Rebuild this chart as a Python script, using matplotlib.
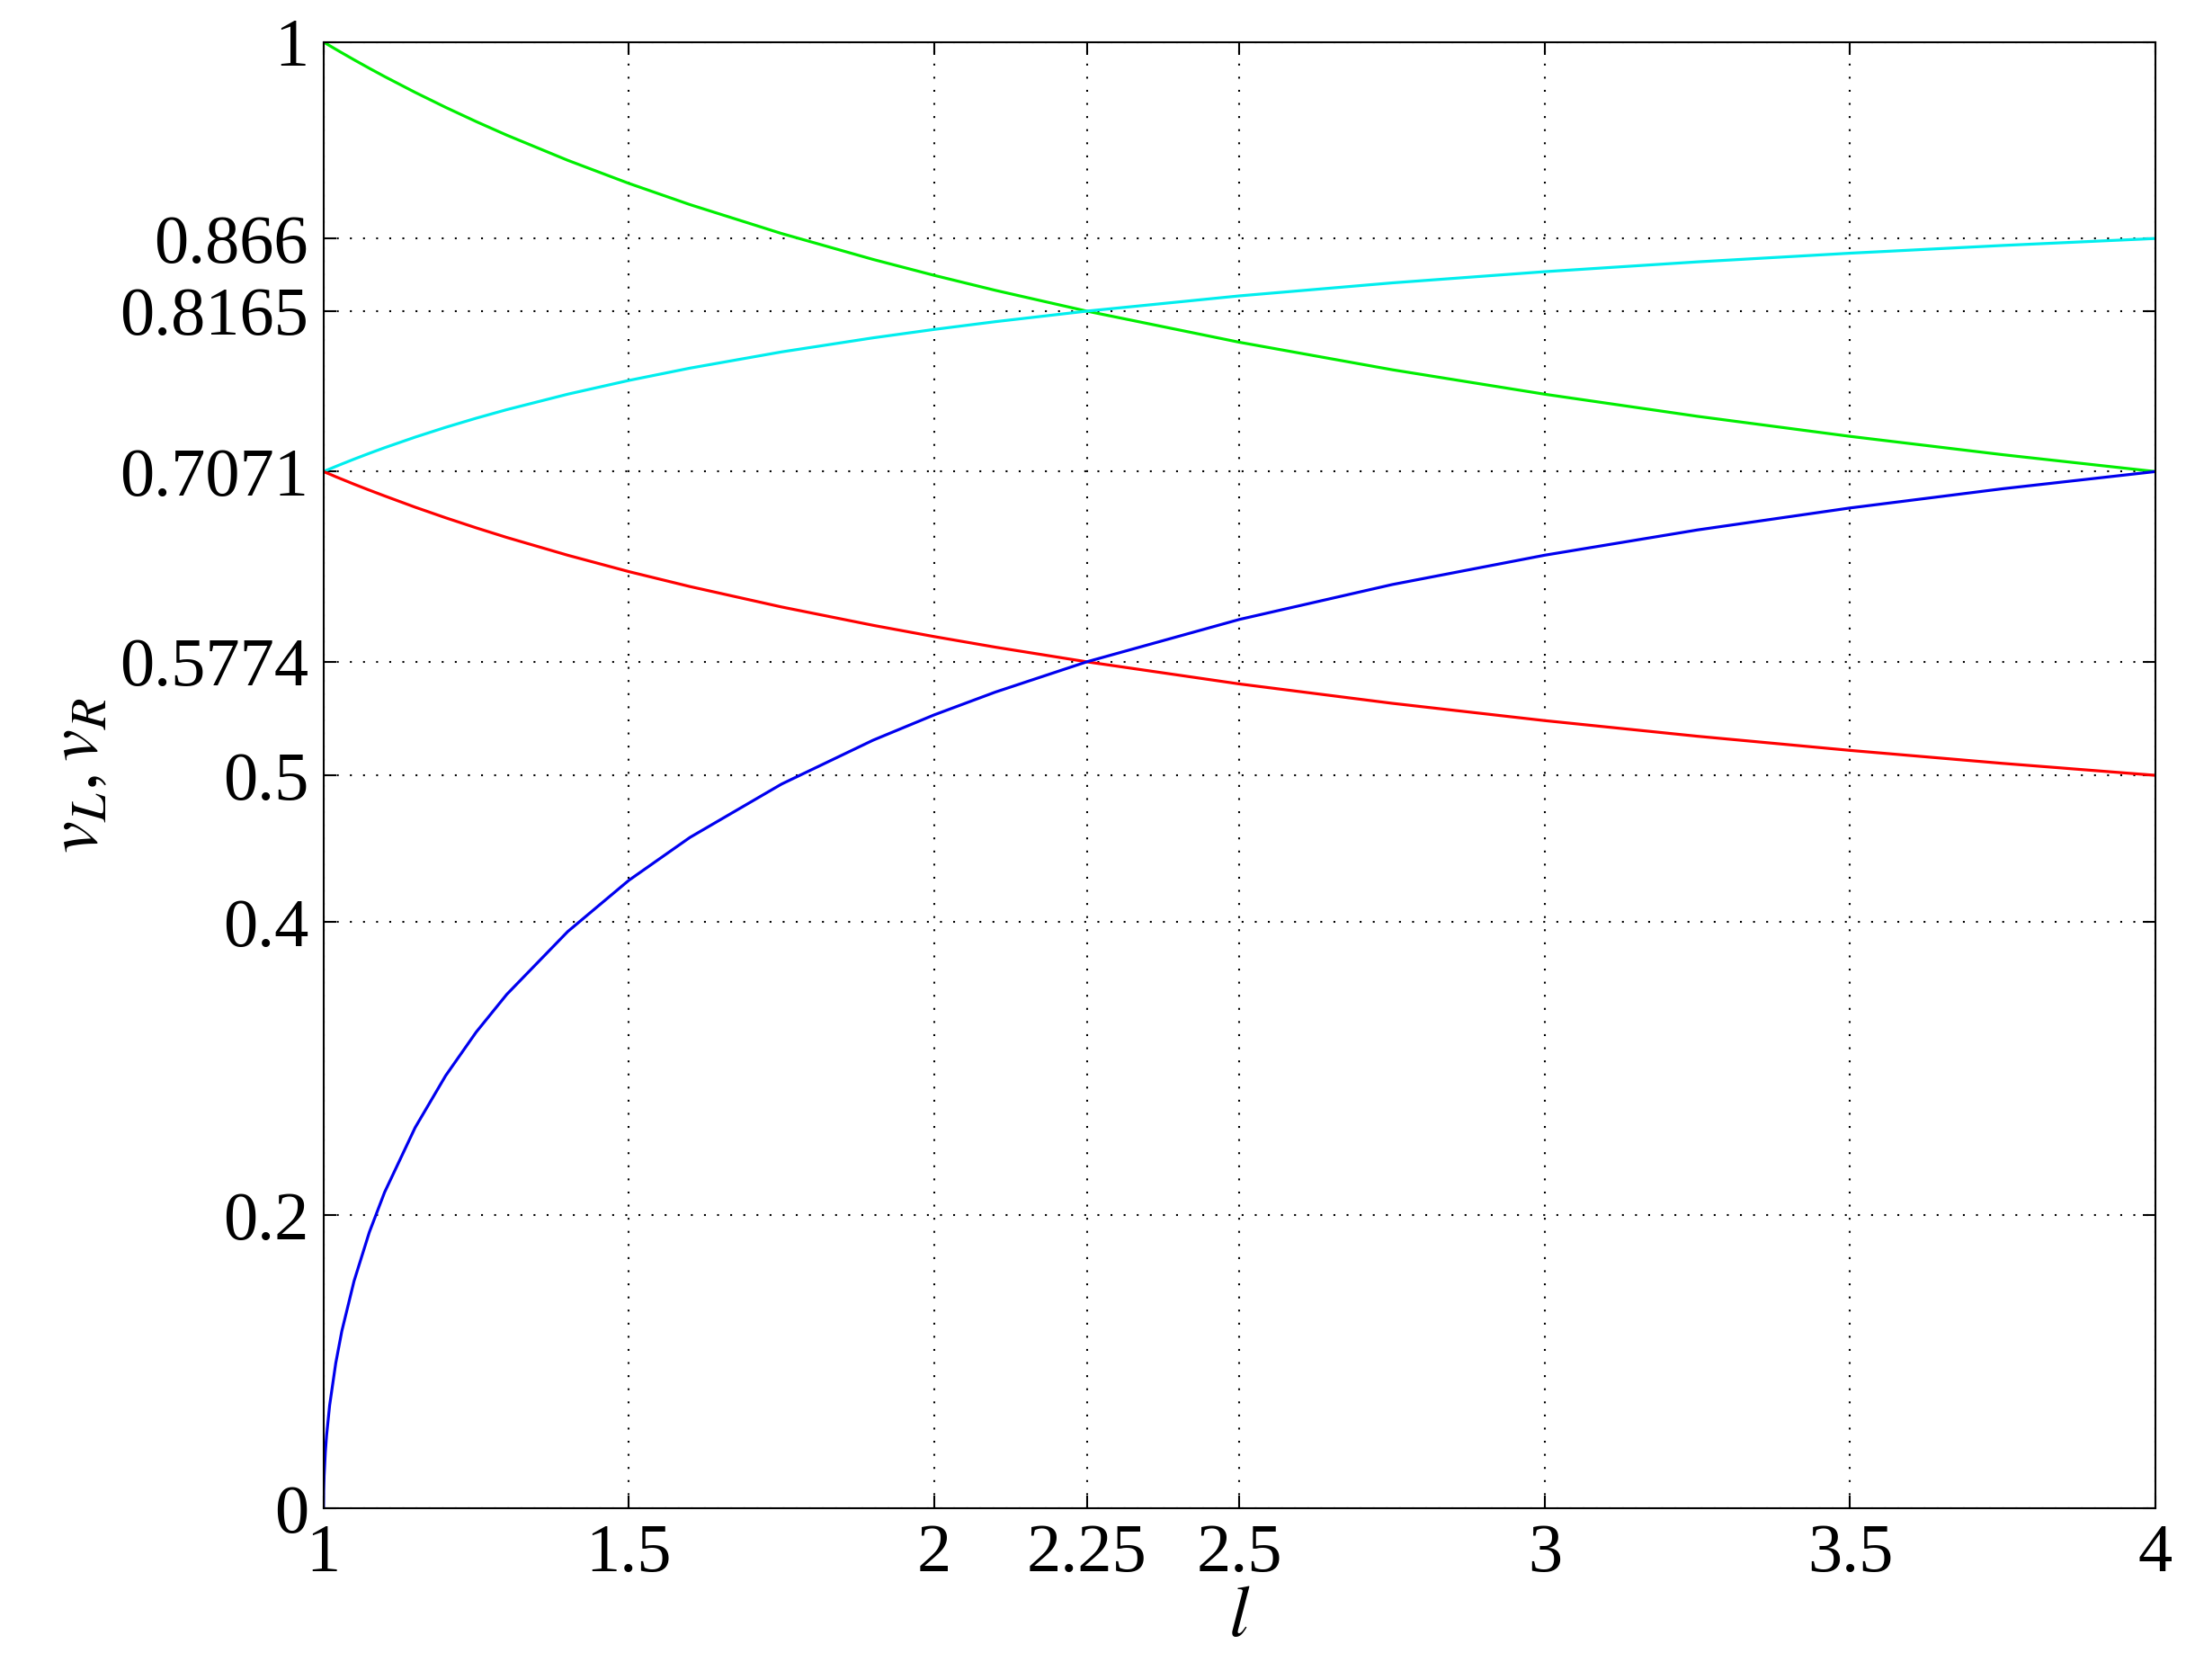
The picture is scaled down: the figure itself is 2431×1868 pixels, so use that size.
import matplotlib
matplotlib.use("Agg")
import matplotlib.pyplot as plt

l = [1, 1.0003, 1.001, 1.003, 1.005, 1.01, 1.02, 1.03, 1.05, 1.075, 1.1, 1.15, 1.2, 1.25, 1.3, 1.4, 1.5, 1.6, 1.75, 1.9, 2, 2.1, 2.25, 2.5, 2.75, 3, 3.25, 3.5, 3.75, 4]
green = [1, 0.999925, 0.99975, 0.99925, 0.998754, 0.997516, 0.99506, 0.992637, 0.98787, 0.982083, 0.97645, 0.965663, 0.95544, 0.945742, 0.93651, 0.919323, 0.90360, 0.889139, 0.86944, 0.851749, 0.84090, 0.830702, 0.81650, 0.79527, 0.776546, 0.75984, 0.744782, 0.73111, 0.718609, 0.70711]
red = [0.70711, 0.70706, 0.70693, 0.70658, 0.70623, 0.7054, 0.7036, 0.70190, 0.6985, 0.69444, 0.6905, 0.68283, 0.6756, 0.66874, 0.6622, 0.65006, 0.6389, 0.62872, 0.6148, 0.60228, 0.5946, 0.58740, 0.5774, 0.5623, 0.54911, 0.5373, 0.52664, 0.5170, 0.50814, 0.5000]
blue = [0, 0.01225, 0.0224, 0.0387, 0.04991, 0.0704, 0.0992, 0.12112, 0.1552, 0.18845, 0.2157, 0.25980, 0.2952, 0.32492, 0.3506, 0.39350, 0.4284, 0.45764, 0.4940, 0.52395, 0.5412, 0.55672, 0.5774, 0.6063, 0.63006, 0.6501, 0.66731, 0.6823, 0.69541, 0.7071]
cyan = [0.70711, 0.70721, 0.70729, 0.70764, 0.70799, 0.70886, 0.71058, 0.71227, 0.71558, 0.71955, 0.72337, 0.73058, 0.73727, 0.74350, 0.74931, 0.75988, 0.76925, 0.77763, 0.78869, 0.79829, 0.80402, 0.80930, 0.8165, 0.82691, 0.83576, 0.84340, 0.85009, 0.85600, 0.86128, 0.86603]

xticks = [1, 1.5, 2, 2.25, 2.5, 3, 3.5, 4]
xlabels = ['1', '1.5', '2', '2.25', '2.5', '3', '3.5', '4']
yticks = [0, 0.2, 0.4, 0.5, 0.5774, 0.7071, 0.8165, 0.866, 1]
ylabels = ['0', '0.2', '0.4', '0.5', '0.5774', '0.7071', '0.8165', '0.866', '1']

plt.rcParams['font.family'] = ['Liberation Serif', 'DejaVu Serif']
plt.rcParams['mathtext.fontset'] = 'stix'
fig = plt.figure(figsize=(24.31, 18.68), dpi=100)
ax = fig.add_axes([0.148, 0.102, 0.838, 0.873])
lw = 2.3
for ys, c in [(green, '#00ee00'), (cyan, '#00eeee'), (red, '#ff0000'), (blue, '#0000ee')]:
    ax.plot(l, ys, color=c, lw=lw, solid_joinstyle='round')
ax.set_xlim(1, 4)
ax.set_ylim(0, 1)
ax.set_xticks(xticks, xlabels)
ax.set_yticks(yticks, ylabels)
ax.tick_params(labelsize=55, direction='in', length=10, width=1.5, top=True, right=True, pad=12)
ax.grid(True, linestyle=(0, (1, 6)), color='black', lw=1.5)
for s in ax.spines.values():
    s.set_linewidth(1.5)
ax.set_xlabel('$l$', fontsize=58, labelpad=0)
ax.set_ylabel('$v_L, v_R$', fontsize=58, labelpad=6)
fig.savefig('out.png', dpi=100)
